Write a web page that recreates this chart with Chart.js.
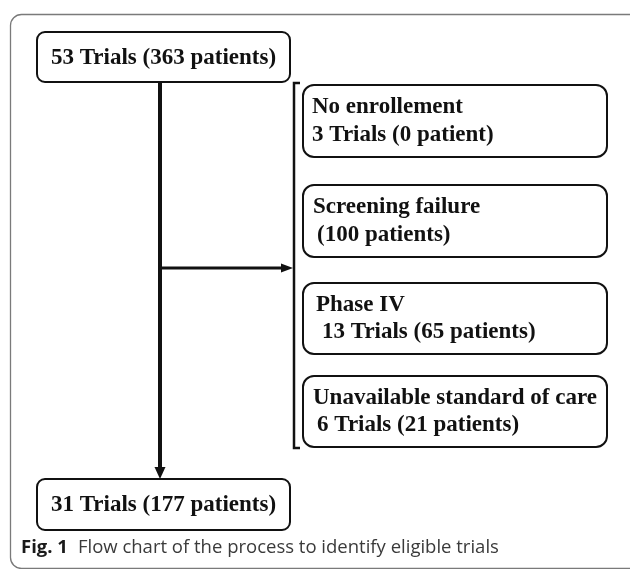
<!DOCTYPE html>
<html>
<head>
<meta charset="utf-8">
<script src="https://cdn.jsdelivr.net/npm/chart.js@4"></script>
<style>
  html, body { margin: 0; padding: 0; background: #fff; }
  #wrap { width: 630px; height: 569px; }
</style>
</head>
<body>
<div id="wrap"><canvas id="chart" width="630" height="569"></canvas></div>
<script>
// main column: trials kept at each step
const stageTrials = [53, 31]
const stagePatients = [363, 177]

// excluded trials, top to bottom
const exclusionReasons = ['No enrollement', 'Screening failure', 'Phase IV', 'Unavailable standard of care']
const exclusionTrials = [3, null, 13, 6]
const exclusionPatients = [0, 100, 65, 21]

const captionLabel = 'Fig. 1'
const captionText = 'Flow chart of the process to identify eligible trials'

// layout, in axis units (1 unit = 1 px here)
const stageBoxes = [
    {x0: 37, x1: 290, y0: 32, y1: 82},
    {x0: 37, x1: 290, y0: 479, y1: 530}
]
const exclusionBoxes = [
    {x0: 303, x1: 607, y0: 85, y1: 157},
    {x0: 303, x1: 607, y0: 185, y1: 257},
    {x0: 303, x1: 607, y0: 283, y1: 354},
    {x0: 303, x1: 607, y0: 376, y1: 447}
]
const line1Indent = [0, 1, 4, 1]
const line2Indent = [0, 5, 10, 5]
const trunkX = 160
const branchY = 268
const bracketX = 294

const serif = 'bold 23px "Liberation Serif", "Times New Roman", serif'

function stageText(i) {
    return stageTrials[i] + ' Trials (' + stagePatients[i] + ' patients)'
}

function exclusionSecondLine(i) {
    let p = exclusionPatients[i]
    let pat = '(' + p + (p <= 1 ? ' patient)' : ' patients)')
    if (exclusionTrials[i] == null) return pat
    return exclusionTrials[i] + ' Trials ' + pat
}

function roundRect(ctx, x0, y0, x1, y1, r) {
    ctx.beginPath()
    ctx.moveTo(x0 + r, y0)
    ctx.lineTo(x1 - r, y0)
    ctx.arcTo(x1, y0, x1, y0 + r, r)
    ctx.lineTo(x1, y1 - r)
    ctx.arcTo(x1, y1, x1 - r, y1, r)
    ctx.lineTo(x0 + r, y1)
    ctx.arcTo(x0, y1, x0, y1 - r, r)
    ctx.lineTo(x0, y0 + r)
    ctx.arcTo(x0, y0, x0 + r, y0, r)
    ctx.closePath()
}

const flowPlugin = {
    id: 'flow',
    beforeDatasetsDraw(chart) {
        const ctx = chart.ctx
        const xs = chart.scales.x, ys = chart.scales.y
        // figure frame
        ctx.save()
        ctx.strokeStyle = '#7a7a7a'
        ctx.lineWidth = 1.3
        roundRect(ctx, xs.getPixelForValue(10.5), ys.getPixelForValue(14.5),
            xs.getPixelForValue(660), ys.getPixelForValue(568.5), 11)
        ctx.stroke()
        ctx.restore()
    },
    afterDatasetsDraw(chart) {
        const ctx = chart.ctx
        const xs = chart.scales.x, ys = chart.scales.y
        const px = v => xs.getPixelForValue(v)
        const py = v => ys.getPixelForValue(v)
        ctx.save()
        ctx.strokeStyle = '#111'
        ctx.fillStyle = '#111'
        ctx.lineWidth = 2

        // main boxes
        stageBoxes.forEach((b, i) => {
            roundRect(ctx, px(b.x0), py(b.y0), px(b.x1), py(b.y1), 8)
            ctx.stroke()
            ctx.font = serif
            ctx.textAlign = 'center'
            ctx.textBaseline = 'middle'
            ctx.fillText(stageText(i), px((b.x0 + b.x1) / 2), py((b.y0 + b.y1) / 2) + 1)
        })

        // exclusion boxes
        exclusionBoxes.forEach((b, i) => {
            roundRect(ctx, px(b.x0), py(b.y0), px(b.x1), py(b.y1), 11)
            ctx.stroke()
            ctx.font = serif
            ctx.textAlign = 'left'
            ctx.textBaseline = 'middle'
            let cy = (b.y0 + b.y1) / 2
            ctx.fillText(exclusionReasons[i], px(b.x0 + 9 + line1Indent[i]), py(cy - 13.5))
            ctx.fillText(exclusionSecondLine(i), px(b.x0 + 9 + line2Indent[i]), py(cy + 14))
        })

        // arrow heads
        ctx.beginPath()
        ctx.moveTo(px(trunkX), py(stageBoxes[1].y0))
        ctx.lineTo(px(trunkX - 5.5), py(stageBoxes[1].y0 - 12))
        ctx.lineTo(px(trunkX + 5.5), py(stageBoxes[1].y0 - 12))
        ctx.closePath()
        ctx.fill()
        ctx.beginPath()
        ctx.moveTo(px(bracketX - 1), py(branchY))
        ctx.lineTo(px(bracketX - 13), py(branchY - 4.5))
        ctx.lineTo(px(bracketX - 13), py(branchY + 4.5))
        ctx.closePath()
        ctx.fill()

        // caption
        ctx.textAlign = 'left'
        ctx.textBaseline = 'middle'
        ctx.font = 'bold 18.5px "Open Sans", "Noto Sans", sans-serif'
        ctx.fillStyle = '#1a1a1a'
        ctx.fillText(captionLabel, px(21), py(548))
        let w = ctx.measureText(captionLabel).width
        ctx.font = '18.5px "Open Sans", "Noto Sans", sans-serif'
        ctx.fillStyle = '#3a3a3a'
        ctx.fillText(captionText, px(21) + w + 10, py(548))
        ctx.restore()
    }
}

const lineStyle = {
    showLine: true,
    pointRadius: 0,
    borderColor: '#111',
    backgroundColor: '#111',
    borderCapStyle: 'butt',
    borderJoinStyle: 'miter',
    tension: 0
}

const config = {
    type: 'scatter',
    data: {
        datasets: [{
            ...lineStyle,
            label: 'trunk',
            data: [{x: trunkX, y: stageBoxes[0].y1}, {x: trunkX, y: stageBoxes[1].y0 - 10}],
            borderWidth: 4
        }, {
            ...lineStyle,
            label: 'branch',
            data: [{x: trunkX, y: branchY}, {x: bracketX - 10, y: branchY}],
            borderWidth: 3
        }, {
            ...lineStyle,
            label: 'bracket',
            data: [{x: bracketX + 6, y: 83}, {x: bracketX, y: 83}, {x: bracketX, y: 448}, {x: bracketX + 6, y: 448}],
            borderWidth: 2.5
        }]
    },
    options: {
        responsive: false,
        animation: false,
        devicePixelRatio: 1,
        layout: {padding: 0},
        scales: {
            x: {type: 'linear', min: 0, max: 630, display: false},
            y: {type: 'linear', min: 0, max: 569, reverse: true, display: false}
        },
        plugins: {
            legend: {display: false},
            tooltip: {enabled: false}
        }
    },
    plugins: [flowPlugin]
}

const chart = new Chart(document.getElementById('chart'), config)
</script>
</body>
</html>
